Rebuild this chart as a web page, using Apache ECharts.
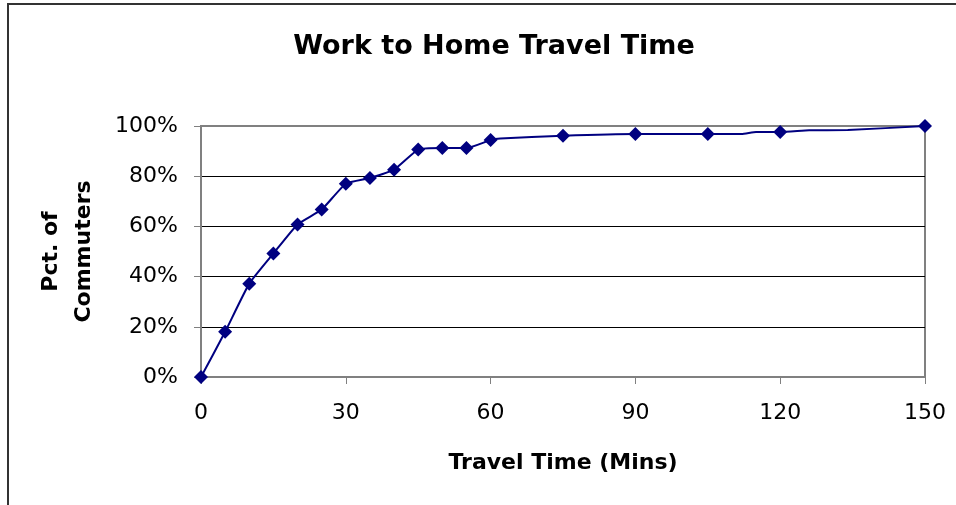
<!DOCTYPE html>
<html>
<head>
<meta charset="utf-8">
<script src="https://cdn.jsdelivr.net/npm/echarts@6/dist/echarts.min.js"></script>
<style>
html,body{margin:0;padding:0;background:#fff;}
#frame{position:absolute;left:7px;top:3px;width:1000px;height:600px;border-left:2px solid #333;border-top:2px solid #333;box-sizing:border-box;}
#chart{position:absolute;left:0;top:0;width:956px;height:505px;}
</style>
</head>
<body>
<div id="frame"></div>
<div id="chart"></div>
<script>
// Marked points (minutes, % of commuters)
var markerMins = [0, 5, 10, 15, 20, 25, 30, 35, 40, 45, 50, 55, 60, 75, 90, 105, 120, 150];
var markerPct  = [0, 18, 37.2, 49.2, 60.8, 66.7, 77, 79.3, 82.6, 90.6, 91.2, 91.2, 94.4, 96.1, 96.8, 96.8, 97.6, 100];
// Full curve points (including unmarked points along the line)
var curveMins = [0, 5, 10, 15, 20, 25, 30, 35, 40, 45, 50, 55, 60, 62, 75, 90, 105, 112, 115, 120, 126, 134, 150];
var curvePct  = [0, 18, 37.2, 49.2, 60.8, 66.7, 77, 79.3, 82.6, 90.6, 91.2, 91.2, 94.4, 95.0, 96.1, 96.8, 96.8, 96.8, 97.6, 97.6, 98.3, 98.4, 100];
var yTicks = [0, 20, 40, 60, 80, 100];
var xTicks = [0, 30, 60, 90, 120, 150];

var chart = echarts.init(document.getElementById('chart'), null, {renderer: 'canvas'});
var font = 'DejaVu Sans, Liberation Sans, Arial, sans-serif';
var curve = curveMins.map(function(m, i){ return [m, curvePct[i]]; });
var marks = markerMins.map(function(m, i){ return [m, markerPct[i]]; });

chart.setOption({
  animation: false,
  backgroundColor: 'transparent',
  title: {
    text: 'Work to Home Travel Time',
    left: 489, top: 28, textAlign: 'center',
    textStyle: {fontFamily: font, fontSize: 27, fontWeight: 'bold', color: '#000'}
  },
  grid: {
    left: 201, right: 31, top: 126, bottom: 128,
    show: true, borderColor: '#808080', borderWidth: 2, backgroundColor: '#fff'
  },
  xAxis: {
    type: 'value', min: xTicks[0], max: xTicks[xTicks.length-1], interval: 30,
    name: 'Travel Time (Mins)', nameLocation: 'middle', nameGap: 75,
    nameTextStyle: {fontFamily: font, fontSize: 22, fontWeight: 'bold', color: '#000'},
    axisLine: {show: true, lineStyle: {color: '#808080', width: 2}},
    axisTick: {show: true, length: 7, lineStyle: {color: '#808080', width: 1}},
    axisLabel: {fontFamily: font, fontSize: 22, color: '#000', margin: 25},
    splitLine: {show: false}
  },
  yAxis: {
    type: 'value', min: yTicks[0], max: yTicks[yTicks.length-1], interval: 20,
    name: 'Pct. of\nCommuters', nameLocation: 'middle', nameGap: 100, nameRotate: 90,
    nameTextStyle: {fontFamily: font, fontSize: 22, fontWeight: 'bold', color: '#000', lineHeight: 33},
    axisLine: {show: true, lineStyle: {color: '#808080', width: 2}},
    axisTick: {show: true, length: 7, lineStyle: {color: '#808080', width: 1}},
    axisLabel: {fontFamily: font, fontSize: 22, color: '#000', margin: 23, formatter: '{value}%'},
    splitLine: {show: true, lineStyle: {color: ['#808080', '#000', '#000', '#000', '#000', '#808080'], width: 1}}
  },
  series: [
    {
      type: 'line', data: curve, showSymbol: false, symbol: 'none', smooth: 0.15,
      lineStyle: {color: '#000080', width: 2}, z: 2
    },
    {
      type: 'scatter', data: marks, symbol: 'diamond', symbolSize: 14,
      itemStyle: {color: '#000080', opacity: 1}, z: 3
    }
  ]
});
</script>
</body>
</html>
